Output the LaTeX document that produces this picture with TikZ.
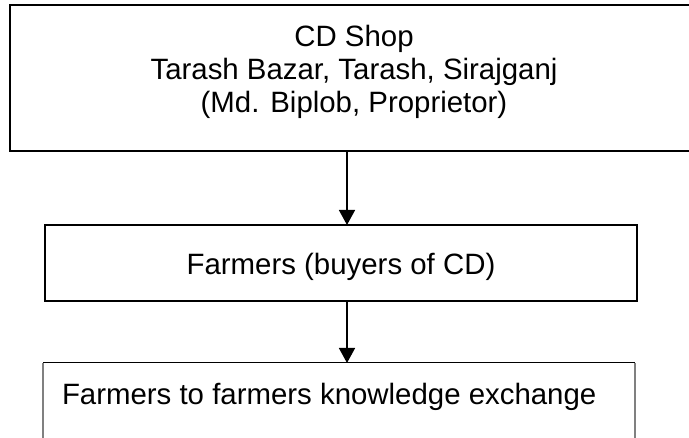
\documentclass[tikz,border=0pt]{standalone}
\usepackage{fontspec}
\setmainfont{Liberation Sans}
\usetikzlibrary{arrows.meta}
\tikzset{
  box/.style={rectangle, inner sep=0pt, outer sep=0pt},
  txt/.style={inner sep=0pt, outer sep=0pt, font=\fontsize{29.4}{33}\selectfont},
  arr/.style={line width=1.5pt, -{Triangle[length=15pt,width=16pt]}},
}
\begin{document}
\begin{tikzpicture}[x=1pt,y=-1pt]
\useasboundingbox (0,0) rectangle (689,438);
\clip (0,0) rectangle (689,438);
% top box (extends beyond right edge)
\node[box, draw, line width=2.4pt, minimum width=695pt, minimum height=146pt] (a) at (357.5,78) {};
\node[txt, align=center] (at) at (354,72) {CD Shop\\Tarash Bazar, Tarash, Sirajganj\\(Md. Biplob, Proprietor)};
% middle box
\node[box, draw, line width=2pt, minimum width=592pt, minimum height=76pt] (b) at (341,263) {};
\node[txt, anchor=base] (bt) at (341,275) {Farmers (buyers of CD)};
% bottom box (open at bottom)
\node[box, minimum width=592pt, minimum height=114pt] (c) at (339,420) {};
\draw[line width=1pt, black] (c.north west) -- (c.north east);
\draw[line width=1.6pt, gray] (c.north west) -- (c.south west);
\draw[line width=1.6pt, gray] (c.north east) -- (c.south east);
\node[txt, anchor=base west] (ct) at (62,405) {Farmers to farmers knowledge exchange};
% arrows
\coordinate (ax) at (347,0);
\draw[arr] (a.south -| ax) -- (b.north -| ax);
\draw[arr] (b.south -| ax) -- (c.north -| ax);
\end{tikzpicture}
\end{document}
